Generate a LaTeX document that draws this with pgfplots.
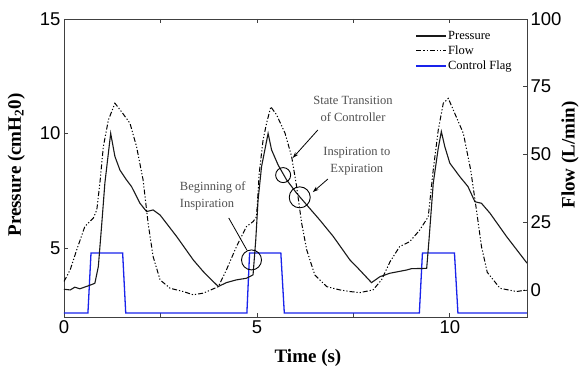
\documentclass[border=0pt]{standalone}
\usepackage{fontspec}
\setmainfont{Liberation Serif}
\setsansfont{Liberation Sans}
\usepackage{pgfplots}
\pgfplotsset{compat=1.18}
\usetikzlibrary{arrows.meta}
\definecolor{flagblue}{RGB}{25,35,235}
\definecolor{anno}{RGB}{80,80,80}
\newcommand{\labfont}{\fontsize{19}{21}\selectfont\bfseries}

\begin{document}
\begin{tikzpicture}
\useasboundingbox (-64pt,-49pt) rectangle (520pt,317pt);
\pgfplotsset{
  base/.style={
    scale only axis, width=463pt, height=298pt,
    xmin=0, xmax=12,
    tick align=inside, major tick length=4pt, minor tick length=4pt,
    axis line style={black!75, line width=0.8pt},
    tick style={black!75, line width=0.8pt},
    ticklabel style={font=\fontsize{18.5}{20}\sffamily},
    /pgf/number format/assume math mode=true,
  }
}
\begin{axis}[base,
  ymin=2, ymax=15,
  xtick={0,5,10}, minor xtick={2.5,7.5},
  ytick={5,10,15},
  ytick pos=left, xtick pos=both, xticklabel pos=lower,
  xlabel={Time (s)},
  ylabel={Pressure (cmH\textsubscript{2}0)},
  every axis x label/.style={at={(axis description cs:0.527,-0.138)}, anchor=center, font=\labfont},
  every axis y label/.style={at={(axis description cs:-0.103,0.51)}, rotate=90, anchor=center, font=\labfont},
]
% Control flag
\addplot[flagblue, line width=1.3pt] coordinates {
(0,2.17) (0.62,2.17) (0.70,4.79) (1.52,4.79) (1.60,2.17)
(4.74,2.17) (4.81,4.79) (5.62,4.79) (5.71,2.17)
(9.21,2.17) (9.29,4.79) (10.12,4.79) (10.21,2.17) (12,2.17)};
% Pressure
\addplot[black!90, line width=1.1pt] coordinates {
(0,3.21) (0.16,3.18) (0.28,3.30) (0.41,3.23) (0.63,3.36) (0.80,3.47)
(0.89,4.2) (0.98,6.09) (1.06,7.85) (1.21,10.01) (1.32,9.0) (1.45,8.41)
(1.62,7.98) (1.75,7.69) (1.97,6.96) (2.14,6.6) (2.31,6.67) (2.49,6.45)
(2.92,5.51) (3.35,4.49) (3.60,4.0) (3.78,3.69) (4.0,3.33) (4.21,3.5)
(4.47,3.62) (4.73,3.69) (4.9,3.84) (4.97,5.36) (5.03,7.1) (5.12,8.56)
(5.29,10.01) (5.38,9.29) (5.55,8.63) (5.77,7.98) (6.03,7.4) (6.29,6.89)
(6.63,6.23) (6.98,5.51) (7.41,4.49) (7.58,4.2) (7.97,3.5) (8.19,3.76)
(8.45,3.91) (8.88,4.05) (9.01,4.11) (9.4,4.12) (9.46,5.36) (9.57,7.83)
(9.7,9.36) (9.78,10.09) (9.87,9.43) (10.0,8.71) (10.26,8.12) (10.47,7.69)
(10.65,7.03) (10.82,6.96) (11.04,6.53) (11.47,5.51) (12.0,4.35)};
% annotations
\draw[black, line width=0.9pt] (axis cs:4.86,4.49) circle[radius=10pt];
\draw[black, line width=0.9pt] (axis cs:5.68,8.19) circle[radius=7.5pt];
\draw[black, line width=0.9pt] (axis cs:6.11,7.22) circle[radius=10.5pt];
\draw[black, line width=0.8pt] (axis cs:4.27,6.32) -- (axis cs:4.74,4.92);
\draw[black, line width=0.8pt, -{Stealth[length=6pt,width=4pt]}] (axis cs:6.58,10.16) -- (axis cs:5.93,8.94);
\draw[black, line width=0.8pt, -{Stealth[length=6pt,width=4pt]}] (axis cs:6.84,8.02) -- (axis cs:6.45,7.45);
\node[anno, font=\fontsize{12.5}{17}\selectfont, align=center] at (axis cs:7.49,11.07) {State Transition\\of Controller};
\node[anno, font=\fontsize{12.5}{17}\selectfont, align=center] at (axis cs:7.59,8.80) {Inspiration to\\Expiration};
\node[anno, font=\fontsize{12.5}{17}\selectfont, align=left, anchor=west, inner xsep=0pt] at (axis cs:3.0,7.28) {Beginning of\\Inspiration};
\end{axis}
\begin{axis}[base,
  ymin=-10, ymax=100,
  axis y line*=right, axis x line=none,
  ytick={0,25,50,75,100},
  ylabel={Flow (L/min)},
  every axis y label/.style={at={(axis description cs:1.093,0.544)}, rotate=90, anchor=center, font=\labfont},
  legend cell align=left,
  legend image code/.code={\draw (0pt,0pt) -- (30pt,0pt);},
  legend style={at={(0.753,0.975)}, anchor=north west, draw=none, fill=none,
    font=\fontsize{12.5}{14}\selectfont, row sep=0pt,
    nodes={inner xsep=1pt, inner ysep=2.5pt}},
]
\addlegendimage{black!90, line width=1.1pt}
\addlegendentry{Pressure}
\addplot[black, line width=1.0pt, dash pattern=on 5pt off 2pt on 1.2pt off 2pt on 1.2pt off 2pt] coordinates {
(0,3.1) (0.16,7.4) (0.33,14.8) (0.54,23.4) (0.76,26.5) (0.85,29.5)
(0.93,39.4) (1.02,52.9) (1.15,62.7) (1.32,68.9) (1.49,65.8) (1.71,61.5)
(1.88,52.9) (2.05,40.6) (2.18,24.6) (2.31,12.3) (2.49,3.7) (2.75,0.6)
(3.09,-0.6) (3.35,-1.8) (3.61,-1.2) (4.0,1.2) (4.21,7.4) (4.47,16.0)
(4.73,23.4) (4.9,25.2) (4.99,27.0) (5.06,43.1) (5.16,55.4) (5.25,61.5)
(5.36,67.6) (5.51,64.6) (5.73,57.8) (5.9,49.2) (6.03,38.1) (6.16,24.6)
(6.29,14.8) (6.5,5.5) (6.81,1.2) (7.15,0) (7.41,-0.6) (7.67,-1.0)
(8.01,0) (8.23,3.7) (8.45,10.4) (8.7,16.0) (8.96,17.8) (9.22,22.1)
(9.44,27.0) (9.57,44.3) (9.7,59.0) (9.83,68.9) (9.96,70.7) (10.09,66.4)
(10.35,57.8) (10.54,44.3) (10.69,29.5) (10.82,16.0) (10.97,6.5) (11.3,0.6)
(11.73,-0.6) (12.0,0)};
\addlegendentry{Flow}
\addlegendimage{flagblue, line width=1.3pt}
\addlegendentry{Control Flag}
\end{axis}
\end{tikzpicture}
\end{document}
